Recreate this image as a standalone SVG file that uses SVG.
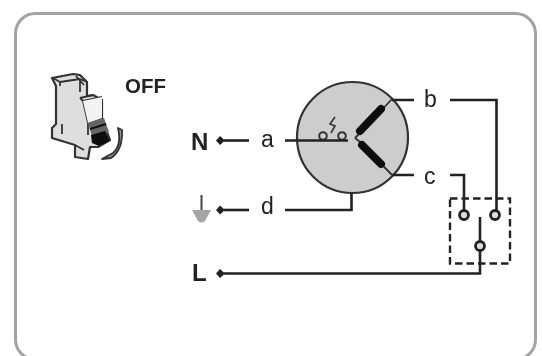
<svg xmlns="http://www.w3.org/2000/svg" width="542" height="356" viewBox="0 0 542 356">
<defs>
<filter id="soft" x="-5%" y="-5%" width="110%" height="110%"><feGaussianBlur stdDeviation="0.75"/></filter>
<marker id="dot" markerWidth="12" markerHeight="12" refX="1" refY="5.500" orient="auto" markerUnits="userSpaceOnUse"><path d="M0 5.500L5 1L9 5.500L5 10Z" fill="#222"/></marker>
</defs>
<style>
.w{fill:none;stroke:#222;stroke-width:2.600}
.t{font-family:"Liberation Sans",Arial,sans-serif;font-size:23px;fill:#222}
.b{font-weight:700;fill:#222;font-size:24px}
.term{fill:#ddd;stroke:#222;stroke-width:2.800}
.l{stroke:#333;stroke-width:2.200;stroke-linejoin:round}
.n{fill:none}
</style>
<rect width="542" height="356" fill="#fff"/>
<g filter="url(#soft)">
<rect id="frame" x="15.500" y="13.500" width="520" height="346" rx="20" fill="#fff" stroke="#a3a3a3" stroke-width="3"/>
<g id="breaker">
<path d="M52 78L73 74L80 75L87 82V96L93 95L102 100V118L107 132L110 140L98 147L90 147L88 159L75 157V145L52 138V128L56 124V86Z" fill="#dedede" class="l"/>
<path d="M53 78L60 82L80 79L87 82M60 82V86M80 79V92M76 76L84 85M80 98L93 95M80 98L83 101L102 97M83 101L88 123V135M88 123L102 118M75 145L84 150M62 124V134" class="l n" style="stroke-width:1.800"/>
<path d="M83 101L102 97V118L88 123Z" fill="#f2f2f2"/>
<path d="M88 123L104 118L109 132L92 136Z" fill="#666"/>
<path d="M90 129L106 124" stroke="#111" stroke-width="2"/>
<path d="M91 135L105 131L110 141L99 146L92 143Z" fill="#0d0d0d"/>
<path d="M118 128Q122 145 113 153L102 159L111 158Q123 150 122 130Z" fill="#999" stroke="#333" stroke-width="1.800" stroke-linejoin="round"/>
</g>
<text id="off" class="t b" x="125" y="93" style="font-size:20.500px">OFF</text>
<g id="motor">
<circle cx="352.500" cy="137.500" r="55.500" fill="#cdcdcd" stroke="#333" stroke-width="2.200"/>
<path d="M355 138L358 135L392 99M355 138L360 142L392 175" fill="none" stroke="#333" stroke-width="1.800"/>
<path d="M360 131L381 109" stroke="#111" stroke-width="8" fill="none" stroke-linecap="round"/>
<path d="M362 145L381 164" stroke="#111" stroke-width="8" fill="none" stroke-linecap="round"/>
<circle cx="323" cy="136" r="3.800" fill="none" stroke="#333" stroke-width="2"/>
<circle cx="342" cy="136" r="3.800" fill="none" stroke="#333" stroke-width="2"/>
<path d="M335 117L330 124L335 126L331 133" fill="none" stroke="#333" stroke-width="1.600"/>
</g>
<g id="switch">
<rect x="450" y="198.500" width="60" height="65" fill="none" stroke="#222" stroke-width="2.400" stroke-dasharray="7.500 4"/>
<circle class="term" cx="464" cy="215" r="4.500"/>
<circle class="term" cx="495" cy="215" r="4.500"/>
<circle class="term" cx="480" cy="246" r="4.500"/>
</g>
<g id="connectors">
<path class="w" d="M285 140.500H348"/>
<path class="w" d="M392 100H414M450 100H496.500V211"/>
<path class="w" d="M392 175H414M450 175H464V210"/>
<path class="w" d="M480 217V241M480 251V273.500H224" marker-end="url(#dot)"/>
<path class="w" d="M285 210H351.500V193"/>
<path class="w" d="M249 140.500H224" marker-end="url(#dot)"/>
<path class="w" d="M249 210H224" marker-end="url(#dot)"/>
</g>
<g id="labels">
<text class="t b" x="191" y="150">N</text>
<text class="t b" x="192" y="281">L</text>
<text class="t" x="261" y="147">a</text>
<text class="t" x="261" y="214">d</text>
<text class="t" x="424" y="107">b</text>
<text class="t" x="424" y="184">c</text>
</g>
<g id="earth">
<path d="M201.500 195V213" stroke="#444" stroke-width="2"/>
<path d="M192 210H211L205 221Q201.500 224 198 221Z" fill="#a5a5a5"/>
</g>
</g>
</svg>
